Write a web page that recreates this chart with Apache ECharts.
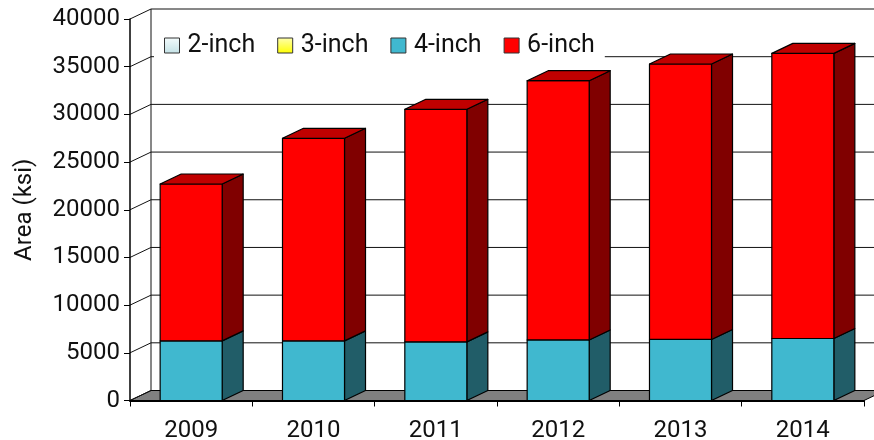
<!DOCTYPE html>
<html>
<head>
<meta charset="utf-8">
<script src="https://cdn.jsdelivr.net/npm/echarts@6/dist/echarts.min.js"></script>
<style>
  html, body { margin: 0; padding: 0; background: #fff; }
  #chart { width: 874px; height: 440px; }
</style>
</head>
<body>
<div id="chart"></div>
<script>
// Wafer area by diameter, stacked per year (ksi)
const years = ['2009', '2010', '2011', '2012', '2013', '2014'];
const twoInch = [0, 0, 0, 0, 0, 0];
const threeInch = [0, 0, 0, 0, 0, 0];
const fourInch = [6250, 6250, 6150, 6350, 6400, 6500];
const sixInch = [16450, 21240, 24380, 27180, 28880, 29900];
const yTicks = [0, 5000, 10000, 15000, 20000, 25000, 30000, 35000, 40000];

const seriesNames = ['2-inch', '3-inch', '4-inch', '6-inch'];
const seriesValues = [twoInch, threeInch, fourInch, sixInch];

// pseudo-3D depth offset of every box and of the back wall
const DX = 21, DY = -10;
const FONT = 'Roboto';

const faceColors = {
  '2-inch': { front: '#d6ecef', side: '#6b7778', top: '#a8bcbf' },
  '3-inch': { front: '#ffff40', side: '#808020', top: '#c0c030' },
  '4-inch': { front: '#40b8cf', side: '#215d68', top: '#308a9b' },
  '6-inch': { front: '#ff0000', side: '#800000', top: '#c00000' }
};
const legendColors = {
  '2-inch': { type: 'linear', x: 0, y: 0, x2: 0, y2: 1,
    colorStops: [{ offset: 0, color: '#f4fbfc' }, { offset: 1, color: '#c4e2e6' }] },
  '3-inch': { type: 'linear', x: 0, y: 0, x2: 0, y2: 1,
    colorStops: [{ offset: 0, color: '#ffffb0' }, { offset: 1, color: '#ffff00' }] },
  '4-inch': '#40b8cf',
  '6-inch': '#ff0000'
};

// stacked segments: [category, base, top, isTopmost]
const totals = years.map((_, i) => seriesValues.reduce((s, arr) => s + arr[i], 0));
const cumulative = years.map(() => 0);
const segmentData = seriesValues.map(arr => arr.map((v, i) => {
  const base = cumulative[i];
  cumulative[i] += v;
  return [i, base, base + v, base + v === totals[i] ? 1 : 0];
}));

function bandWidth(api) { return api.size([1, 0])[0]; }

// back wall, left wall and floor
function renderFrame(params, api) {
  const v = api.value(1);
  const band = bandWidth(api);
  const pLeft = api.coord([0, v]);
  const xl = pLeft[0] - band / 2;
  const xr = api.coord([years.length - 1, v])[0] + band / 2;
  const y = pLeft[1];
  const lineStyle = { stroke: '#111', lineWidth: 1 };
  const children = [];
  if (params.dataIndex === 0) {
    const yTop = api.coord([0, yTicks[yTicks.length - 1]])[1];
    children.push({
      type: 'polygon',
      shape: { points: [[xl, y], [xr, y], [xr + DX, y + DY], [xl + DX, y + DY]] },
      style: { fill: '#808080', stroke: '#000', lineWidth: 1 }
    });
    children.push({
      type: 'line',
      shape: { x1: xl + DX, y1: y + DY, x2: xl + DX, y2: yTop + DY },
      style: lineStyle
    });
  } else {
    children.push({
      type: 'line',
      shape: { x1: xl + DX, y1: y + DY, x2: xr + DX, y2: y + DY },
      style: lineStyle
    });
  }
  children.push({
    type: 'line',
    shape: { x1: xl, y1: y, x2: xl + DX, y2: y + DY },
    style: lineStyle
  });
  return { type: 'group', children };
}

function makeBarRenderer(name) {
  const c = faceColors[name];
  return function (params, api) {
    const i = api.value(0);
    const base = api.value(1), top = api.value(2);
    if (top <= base) return { type: 'group', children: [] };
    const half = bandWidth(api) * 0.2535;
    const cx = api.coord([i, base])[0];
    const y0 = api.coord([i, base])[1];
    const y1 = api.coord([i, top])[1];
    const x0 = cx - half, x1 = cx + half;
    const edge = { stroke: '#000', lineWidth: 1.2, lineJoin: 'round' };
    const children = [
      { type: 'polygon',
        shape: { points: [[x1, y0], [x1 + DX, y0 + DY], [x1 + DX, y1 + DY], [x1, y1]] },
        style: Object.assign({ fill: c.side }, edge) },
      { type: 'rect',
        shape: { x: x0, y: y1, width: x1 - x0, height: y0 - y1 },
        style: Object.assign({ fill: c.front }, edge) }
    ];
    if (api.value(3) === 1) {
      children.push({ type: 'polygon',
        shape: { points: [[x0, y1], [x0 + DX, y1 + DY], [x1 + DX, y1 + DY], [x1, y1]] },
        style: Object.assign({ fill: c.top }, edge) });
    }
    return { type: 'group', children };
  };
}

const chart = echarts.init(document.getElementById('chart'), null, { renderer: 'canvas' });

const series = [{
  name: 'frame',
  type: 'custom',
  z: 1,
  silent: true,
  renderItem: renderFrame,
  encode: { x: 0, y: 1 },
  data: yTicks.map(v => [0, v])
}].concat(seriesNames.map((name, s) => ({
  name,
  type: 'custom',
  z: 3,
  renderItem: makeBarRenderer(name),
  encode: { x: 0, y: [1, 2] },
  itemStyle: { color: legendColors[name] },
  data: segmentData[s]
})));

chart.setOption({
  animation: false,
  backgroundColor: '#fff',
  textStyle: { fontFamily: FONT },
  grid: {
    left: 130, right: 10, top: 19, bottom: 39.5,
    containLabel: false, outerBoundsMode: 'none'
  },
  legend: {
    data: seriesNames,
    left: 154, top: 28,
    padding: [5, 10, 5, 10],
    backgroundColor: '#fff',
    itemWidth: 15, itemHeight: 15,
    itemGap: 22,
    icon: 'rect',
    itemStyle: { borderColor: '#333', borderWidth: 1 },
    textStyle: { fontFamily: FONT, fontSize: 25, color: '#111', padding: [0, 0, 0, 3] }
  },
  xAxis: {
    type: 'category',
    data: years,
    z: 10,
    boundaryGap: true,
    axisLine: { lineStyle: { color: '#000', width: 2 } },
    axisTick: { show: true, interval: 0, length: 6, lineStyle: { color: '#000', width: 1 } },
    axisLabel: { fontFamily: FONT, fontSize: 24, color: '#111', margin: 18, interval: 0 },
    splitLine: { show: false }
  },
  yAxis: {
    type: 'value',
    min: 0, max: 40000, interval: 5000,
    z: 10,
    name: 'Area (ksi)',
    nameLocation: 'middle',
    nameRotate: 90,
    nameGap: 93,
    nameTextStyle: { fontFamily: FONT, fontSize: 24, color: '#111' },
    axisLine: { show: true, lineStyle: { color: '#000', width: 1.5 } },
    axisTick: { show: true, length: 6, lineStyle: { color: '#000', width: 1 } },
    axisLabel: {
      fontFamily: FONT, fontSize: 24, color: '#111', margin: 10,
      formatter: v => String(v)
    },
    splitLine: { show: false }
  },
  series
});
</script>
</body>
</html>
